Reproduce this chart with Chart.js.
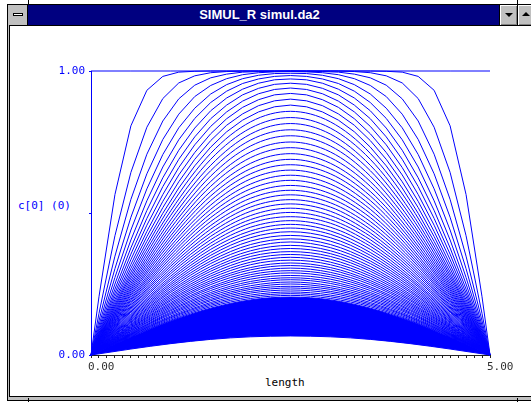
<!DOCTYPE html>
<html>
<head>
<meta charset="utf-8">
<title>SIMUL_R simul.da2</title>
<script src="https://cdn.jsdelivr.net/npm/chart.js@4.4.1/dist/chart.umd.min.js"></script>
<style>
  body { margin: 0; width: 531px; height: 402px; overflow: hidden; background: #fff; position: relative; }
  .abs { position: absolute; box-sizing: border-box; }
  #frame { left: 7px; top: 4px; width: 530px; height: 397px; border: 1px solid #000; background: #c0c0c0; }
  #client { left: 9px; top: 25px; width: 530px; height: 372px; border-left: 1px solid #000; border-top: 1px solid #000; border-bottom: 1px solid #000; background: #fff; }
  #sysbox { left: 9px; top: 5px; width: 19px; height: 20px; background: #c0c0c0; border-right: 1px solid #000; }
  #sysbox div { left: 4px; top: 8px; width: 10px; height: 3px; background: #fff; border: 1px solid #000; }
  #titlebar { left: 28px; top: 5px; width: 471px; height: 20px; background: #000080; color: #fff;
    font: bold 13px "Liberation Sans", Arial, sans-serif; text-align: center; line-height: 20px; padding-right: 8px; }
  .btn { top: 5px; height: 20px; background: #c0c0c0; border-left: 1px solid #000;
    box-shadow: inset 1px 1px #fff, inset -1px -1px #808080; }
  .tri { width: 0; height: 0; border-left: 4px solid transparent; border-right: 4px solid transparent; }
  .tick { width: 1px; height: 4px; background: #000; }
  .lbl { font: 11px "DejaVu Sans Mono", monospace; white-space: nowrap; }
  #chart { position: absolute; left: 0; top: 0; }
</style>
</head>
<body>
<div id="frame" class="abs"></div>
<div id="client" class="abs"></div>
<div id="sysbox" class="abs"><div class="abs"></div></div>
<div id="titlebar" class="abs">SIMUL_R simul.da2</div>
<div class="abs btn" style="left:499px;width:18px"><div class="abs tri" style="left:5px;top:8px;border-top:4px solid #000"></div></div>
<div class="abs btn" style="left:517px;width:16px"><div class="abs tri" style="left:4px;top:7px;border-bottom:4px solid #000"></div></div>
<div class="abs tick" style="left:28px;top:0"></div>
<div class="abs tick" style="left:517px;top:0"></div>
<div class="abs tick" style="left:28px;top:398px"></div>
<div class="abs tick" style="left:517px;top:398px"></div>
<div class="abs lbl" style="left:18px;top:199px;color:#0000ff">c[0] (0)</div>
<div class="abs lbl" style="left:265px;top:376px;color:#000">length</div>
<canvas id="chart" width="531" height="402"></canvas>
<script>
// grid nodes (length axis)
const xFine = [0, 0.1, 0.3, 0.5, 0.7, 0.9, 1.1, 1.3, 1.5, 1.7, 1.9, 2.1, 2.3, 2.5, 2.7, 2.9, 3.1, 3.3, 3.5, 3.7, 3.9, 4.1, 4.3, 4.5, 4.7, 4.9, 5];
const xCoarse = [0, 0.5, 1, 1.5, 2, 2.5, 3, 3.5, 4, 4.5, 5];

// c[0] profiles, one per saved time step
const c00 = [1, 1, 1, 1, 1, 1, 1, 1, 1, 1, 1];
const c01 = [0,.205,.565,.807,.932,.981,.996,.999,1,1,1,1,1,1,1,1,1,1,1,.999,.996,.981,.932,.807,.565,.205,0];
const c02 = [0,.146,.42,.643,.802,.903,.958,.983,.994,.998,1,1,1,1,1,1,1,.998,.994,.983,.958,.903,.802,.643,.42,.146,0];
const c03 = [0,.12,.348,.548,.707,.824,.902,.95,.976,.989,.996,.998,.999,1,.999,.998,.996,.989,.976,.95,.902,.824,.707,.548,.348,.12,0];
const c04 = [0,.104,.304,.485,.638,.759,.848,.91,.949,.973,.987,.994,.997,.998,.997,.994,.987,.973,.949,.91,.848,.759,.638,.485,.304,.104,0];
const c05 = [0,.093,.273,.44,.585,.706,.8,.869,.919,.952,.973,.985,.991,.992,.991,.985,.973,.952,.919,.869,.8,.706,.585,.44,.273,.093,0];
const c06 = [0,.085,.25,.405,.543,.662,.758,.833,.889,.929,.956,.972,.981,.984,.981,.972,.956,.929,.889,.833,.758,.662,.543,.405,.25,.085,0];
const c07 = [0,.078,.232,.377,.509,.624,.721,.799,.86,.905,.936,.957,.969,.972,.969,.957,.936,.905,.86,.799,.721,.624,.509,.377,.232,.078,0];
const c08 = [0,.073,.218,.355,.481,.593,.689,.768,.832,.88,.916,.939,.953,.957,.953,.939,.916,.88,.832,.768,.689,.593,.481,.355,.218,.073,0];
const c09 = [0,.069,.206,.336,.457,.565,.66,.74,.805,.856,.894,.92,.935,.94,.935,.92,.894,.856,.805,.74,.66,.565,.457,.336,.206,.069,0];
const c10 = [0,.066,.195,.319,.435,.541,.634,.713,.779,.832,.872,.899,.916,.921,.916,.899,.872,.832,.779,.713,.634,.541,.435,.319,.195,.066,0];
const c11 = [0,.063,.186,.305,.417,.519,.61,.689,.755,.809,.849,.878,.895,.901,.895,.878,.849,.809,.755,.689,.61,.519,.417,.305,.186,.063,0];
const c12 = [0,.06,.178,.292,.4,.499,.588,.666,.732,.786,.827,.856,.874,.88,.874,.856,.827,.786,.732,.666,.588,.499,.4,.292,.178,.06,0];

const c13 = [0,.281,.526,.71,.821,.858,.821,.71,.526,.281,0];
const c14 = [0,.271,.508,.689,.799,.836,.799,.689,.508,.271,0];
const c15 = [0,.261,.492,.668,.778,.815,.778,.668,.492,.261,0];
const c16 = [0,.252,.476,.649,.757,.793,.757,.649,.476,.252,0];
const c17 = [0,.244,.461,.63,.736,.772,.736,.63,.461,.244,0];
const c18 = [0,.236,.447,.611,.715,.75,.715,.611,.447,.236,0];
const c19 = [0,.229,.433,.594,.695,.73,.695,.594,.433,.229,0];
const c20 = [0,.222,.42,.576,.675,.709,.675,.576,.42,.222,0];
const c21 = [0,.215,.408,.56,.656,.689,.656,.56,.408,.215,0];
const c22 = [0,.209,.396,.544,.638,.67,.638,.544,.396,.209,0];
const c23 = [0,.202,.384,.528,.62,.651,.62,.528,.384,.202,0];
const c24 = [0,.196,.373,.513,.602,.633,.602,.513,.373,.196,0];
const c25 = [0,.191,.362,.498,.585,.615,.585,.498,.362,.191,0];
const c26 = [0,.185,.352,.484,.568,.597,.568,.484,.352,.185,0];
const c27 = [0,.18,.342,.47,.552,.58,.552,.47,.342,.18,0];
const c28 = [0,.174,.332,.456,.536,.564,.536,.456,.332,.174,0];
const c29 = [0,.169,.322,.443,.521,.547,.521,.443,.322,.169,0];
const c30 = [0,.165,.313,.43,.506,.532,.506,.43,.313,.165,0];
const c31 = [0,.16,.304,.418,.491,.517,.491,.418,.304,.16,0];
const c32 = [0,.155,.295,.406,.477,.502,.477,.406,.295,.155,0];
const c33 = [0,.151,.287,.394,.464,.487,.464,.394,.287,.151,0];
const c34 = [0,.146,.278,.383,.45,.473,.45,.383,.278,.146,0];
const c35 = [0,.142,.27,.372,.437,.46,.437,.372,.27,.142,0];
const c36 = [0,.138,.263,.361,.425,.447,.425,.361,.263,.138,0];
const c37 = [0,.134,.255,.351,.413,.434,.413,.351,.255,.134,0];
const c38 = [0,.13,.248,.341,.401,.421,.401,.341,.248,.13,0];
const c39 = [0,.126,.241,.331,.389,.409,.389,.331,.241,.126,0];
const c40 = [0,.123,.234,.322,.378,.398,.378,.322,.234,.123,0];
const c41 = [0,.119,.227,.312,.367,.386,.367,.312,.227,.119,0];
const c42 = [0,.116,.221,.303,.357,.375,.357,.303,.221,.116,0];
const c43 = [0,.113,.214,.295,.347,.364,.347,.295,.214,.113,0];
const c44 = [0,.109,.208,.286,.337,.354,.337,.286,.208,.109,0];
const c45 = [0,.106,.202,.278,.327,.344,.327,.278,.202,.106,0];
const c46 = [0,.103,.196,.27,.318,.334,.318,.27,.196,.103,0];
const c47 = [0,.1,.191,.262,.308,.324,.308,.262,.191,.1,0];
const c48 = [0,.097,.185,.255,.3,.315,.3,.255,.185,.097,0];
const c49 = [0,.095,.18,.248,.291,.306,.291,.248,.18,.095,0];
const c50 = [0,.092,.175,.24,.283,.297,.283,.24,.175,.092,0];
const c51 = [0,.089,.17,.234,.275,.289,.275,.234,.17,.089,0];
const c52 = [0,.087,.165,.227,.267,.28,.267,.227,.165,.087,0];
const c53 = [0,.084,.16,.22,.259,.272,.259,.22,.16,.084,0];
const c54 = [0,.082,.156,.214,.252,.265,.252,.214,.156,.082,0];
const c55 = [0,.079,.151,.208,.244,.257,.244,.208,.151,.079,0];
const c56 = [0,.077,.147,.202,.237,.25,.237,.202,.147,.077,0];
const c57 = [0,.075,.143,.196,.231,.242,.231,.196,.143,.075,0];
const c58 = [0,.073,.138,.191,.224,.236,.224,.191,.138,.073,0];
const c59 = [0,.071,.134,.185,.218,.229,.218,.185,.134,.071,0];
const c60 = [0,.069,.131,.18,.211,.222,.211,.18,.131,.069,0];
const c61 = [0,.067,.127,.175,.205,.216,.205,.175,.127,.067,0];
const c62 = [0,.065,.123,.17,.199,.21,.199,.17,.123,.065,0];
// the late steps pile up into a solid band between these two
const c63 = [0,.063,.12,.165,.194,.204,.194,.165,.12,.063,0];
const c101 = [0,.021,.04,.055,.064,.067,.064,.055,.04,.021,0];

const fineSteps = [c01, c02, c03, c04, c05, c06, c07, c08, c09, c10, c11, c12];
const coarseSteps = [c13, c14, c15, c16, c17, c18, c19, c20, c21, c22, c23, c24, c25, c26, c27, c28, c29, c30,
  c31, c32, c33, c34, c35, c36, c37, c38, c39, c40, c41, c42, c43, c44, c45, c46, c47, c48, c49, c50,
  c51, c52, c53, c54, c55, c56, c57, c58, c59, c60, c61, c62];

const xTickLabels = ['0.00', '5.00'];
const yTickLabels = ['0.00', '1.00'];

const blue = '#0000ff';
const monoFont = { family: 'DejaVu Sans Mono', size: 11 };

function toPoints(xs, ys) {
  return xs.map((x, i) => ({ x: x, y: ys[i] }));
}

const datasets = [];
datasets.push({ data: toPoints(xCoarse, c00) });
fineSteps.forEach(c => datasets.push({ data: toPoints(xFine, c) }));
coarseSteps.forEach(c => datasets.push({ data: toPoints(xCoarse, c), cubicInterpolationMode: 'monotone' }));
datasets.push({ data: toPoints(xCoarse, c63), cubicInterpolationMode: 'monotone' });
datasets.push({ data: toPoints(xCoarse, c101), cubicInterpolationMode: 'monotone', fill: '-1', backgroundColor: blue });

const ctx = document.getElementById('chart').getContext('2d');
const chart = new Chart(ctx, {
  type: 'line',
  data: { datasets: datasets },
  options: {
    responsive: false,
    animation: false,
    layout: { padding: { left: 51, right: 41, top: 71, bottom: 27 } },
    datasets: { line: { clip: false } },
    elements: {
      point: { radius: 0 },
      line: { borderColor: blue, borderWidth: 1, tension: 0, fill: false }
    },
    plugins: { legend: { display: false }, tooltip: { enabled: false } },
    scales: {
      x: {
        type: 'linear',
        min: 0,
        max: 5,
        afterFit: s => { s.height = 20; },
        border: { color: '#202020' },
        grid: { drawOnChartArea: false, tickLength: 3, color: '#202020' },
        ticks: {
          stepSize: 0.1,
          autoSkip: false,
          maxRotation: 0,
          align: 'start',
          labelOffset: -3,
          padding: 3,
          color: '#303030',
          font: monoFont,
          callback: v => v === 0 ? xTickLabels[0] : (v === 5 ? xTickLabels[1] : '')
        }
      },
      y: {
        min: 0,
        max: 1,
        afterFit: s => { s.width = 40; },
        border: { color: blue },
        grid: { drawOnChartArea: false, tickLength: 2, color: blue },
        ticks: {
          stepSize: 0.5,
          padding: 4,
          color: blue,
          font: monoFont,
          callback: v => v === 0 ? yTickLabels[0] : (v === 1 ? yTickLabels[1] : '')
        }
      }
    }
  }
});
</script>
</body>
</html>
